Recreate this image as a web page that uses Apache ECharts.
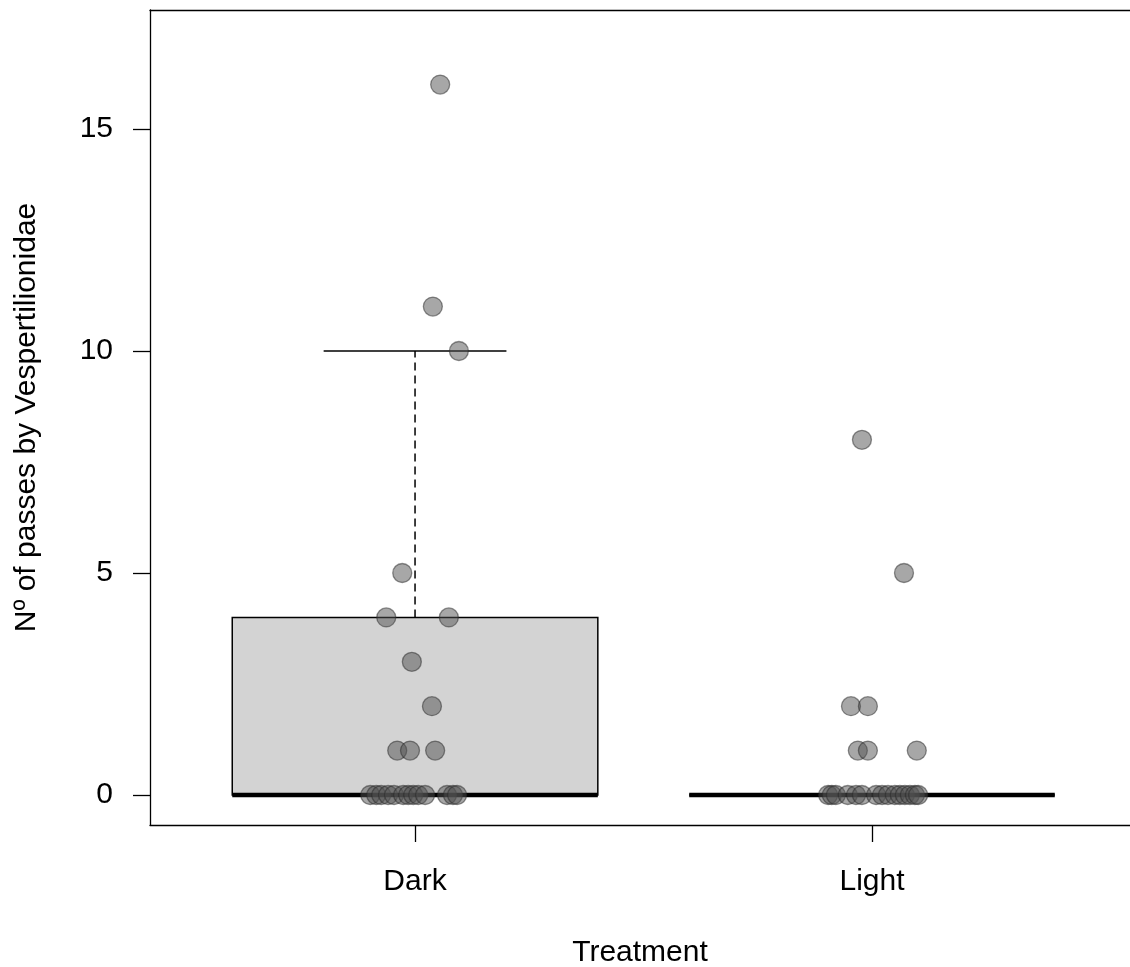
<!DOCTYPE html>
<html>
<head>
<meta charset="utf-8">
<script src="https://cdn.jsdelivr.net/npm/echarts@6/dist/echarts.min.js"></script>
<style>
html,body{margin:0;padding:0;background:#fff;}
#chart{width:1130px;height:967px;}
</style>
</head>
<body>
<div id="chart"></div>
<script>
var categories = ['Dark', 'Light'];
var yTicks = [0, 5, 10, 15];
// box stats: [position, min, q1, median, q3, max]
var darkBox = [1, 0, 0, 0, 4, 10];
var lightBox = [2, 0, 0, 0, 0, 0];
// jittered points
var darkX = [1.055, 1.039, 1.096, 0.972, 0.937, 1.074, 0.993, 1.037, 0.961, 0.989, 1.044,
             0.902, 0.915, 0.926, 0.941, 0.954, 0.974, 0.985, 0.996, 1.007, 1.022, 1.070, 1.083, 1.092];
var darkY = [16, 11, 10, 5, 4, 4, 3, 2, 1, 1, 1,
             0, 0, 0, 0, 0, 0, 0, 0, 0, 0, 0, 0, 0];
var lightX = [1.978, 2.070, 1.954, 1.991, 1.969, 1.991, 2.098,
              1.904, 1.912, 1.921, 1.947, 1.965, 1.978, 2.009, 2.022, 2.035, 2.050, 2.061, 2.072, 2.083, 2.094, 2.101];
var lightY = [8, 5, 2, 2, 1, 1, 1,
              0, 0, 0, 0, 0, 0, 0, 0, 0, 0, 0, 0, 0, 0, 0];

var pts = [];
darkX.forEach(function (x, i) { pts.push([x, darkY[i]]); });
lightX.forEach(function (x, i) { pts.push([x, lightY[i]]); });

var FONT = '"Liberation Sans", Arial, sans-serif';
var FS = 30;
var X_MIN = 0.42, X_MAX = 2.5646;
var chart = echarts.init(document.getElementById('chart'), null, {renderer: 'canvas'});

chart.setOption({
  animation: false,
  backgroundColor: '#fff',
  grid: {left: 150, top: 10, width: 980, height: 815, show: false, containLabel: false, outerBoundsMode: 'none'},
  xAxis: [{
    type: 'value', min: X_MIN, max: X_MAX, position: 'bottom',
    name: 'Treatment', nameLocation: 'middle', nameGap: 113,
    nameTextStyle: {fontFamily: FONT, fontSize: FS, color: '#000'},
    axisLine: {show: true, onZero: false, lineStyle: {color: '#000', width: 1.3}},
    splitLine: {show: false},
    axisTick: {show: true, inside: false, length: 17, customValues: [1, 2], lineStyle: {color: '#000', width: 1.3}},
    axisLabel: {customValues: [1, 2], margin: 42, fontFamily: FONT, fontSize: FS, color: '#000',
      formatter: function (v) { return categories[Math.round(v) - 1]; }}
  }, {
    type: 'value', min: X_MIN, max: X_MAX, position: 'top',
    axisLine: {show: true, onZero: false, lineStyle: {color: '#000', width: 1.3}},
    axisTick: {show: false}, axisLabel: {show: false}, splitLine: {show: false}
  }],
  yAxis: {
    type: 'value', min: -0.676, max: 17.68,
    name: 'Nº of passes by Vespertilionidae', nameLocation: 'middle', nameGap: 108,
    nameTextStyle: {fontFamily: FONT, fontSize: FS, color: '#000'},
    axisLine: {show: true, onZero: false, lineStyle: {color: '#000', width: 1.3}},
    splitLine: {show: false},
    axisTick: {show: true, inside: false, length: 17, customValues: yTicks, lineStyle: {color: '#000', width: 1.3}},
    axisLabel: {customValues: yTicks, margin: 37, fontFamily: FONT, fontSize: FS, color: '#000'}
  },
  series: [
    {
      type: 'custom',
      z: 1,
      data: [darkBox, lightBox],
      encode: {x: 0, y: [1, 2, 3, 4, 5]},
      renderItem: function (params, api) {
        var x = api.value(0), lo = api.value(1), q1 = api.value(2), med = api.value(3), q3 = api.value(4), hi = api.value(5);
        var tl = api.coord([x - 0.4, q3]);
        var br = api.coord([x + 0.4, q1]);
        var mL = api.coord([x - 0.4, med]);
        var mR = api.coord([x + 0.4, med]);
        var wTop = api.coord([x, hi]);
        var wQ3 = api.coord([x, q3]);
        var wBot = api.coord([x, lo]);
        var wQ1 = api.coord([x, q1]);
        var cL = api.coord([x - 0.2, hi]);
        var cR = api.coord([x + 0.2, hi]);
        var cLb = api.coord([x - 0.2, lo]);
        var cRb = api.coord([x + 0.2, lo]);
        var children = [];
        if (hi > q3) {
          children.push({type: 'line', shape: {x1: wQ3[0], y1: wQ3[1], x2: wTop[0], y2: wTop[1]},
            style: {stroke: '#000', lineWidth: 1.5, lineDash: [8, 5]}});
          children.push({type: 'line', shape: {x1: cL[0], y1: cL[1], x2: cR[0], y2: cR[1]},
            style: {stroke: '#000', lineWidth: 1.5}});
        }
        if (lo < q1) {
          children.push({type: 'line', shape: {x1: wQ1[0], y1: wQ1[1], x2: wBot[0], y2: wBot[1]},
            style: {stroke: '#000', lineWidth: 1.5, lineDash: [8, 5]}});
          children.push({type: 'line', shape: {x1: cLb[0], y1: cLb[1], x2: cRb[0], y2: cRb[1]},
            style: {stroke: '#000', lineWidth: 1.5}});
        }
        children.push({type: 'rect', shape: {x: tl[0], y: tl[1], width: br[0] - tl[0], height: br[1] - tl[1]},
          style: {fill: '#d3d3d3', stroke: '#000', lineWidth: 1.5}});
        children.push({type: 'line', shape: {x1: mL[0], y1: mL[1], x2: mR[0], y2: mR[1]},
          style: {stroke: '#000', lineWidth: 4.5}});
        return {type: 'group', children: children};
      }
    },
    {
      type: 'scatter',
      z: 5,
      data: pts,
      symbol: 'circle',
      symbolSize: 19,
      itemStyle: {color: 'rgba(80,80,80,0.5)', borderColor: 'rgba(40,40,40,0.5)', borderWidth: 1.3, opacity: 1}
    }
  ]
});
</script>
</body>
</html>
